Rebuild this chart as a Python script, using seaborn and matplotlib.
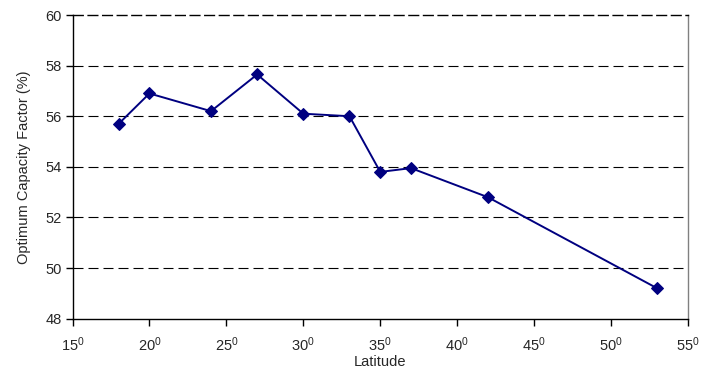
import matplotlib
matplotlib.use("Agg")
import matplotlib.pyplot as plt
import seaborn as sns
import pandas as pd

latitude = [18, 20, 24, 27, 30, 33, 35, 37, 42, 53]
capacity = [55.7, 56.9, 56.2, 57.65, 56.1, 56.0, 53.8, 53.95, 52.8, 49.2]
x_ticks = [15, 20, 25, 30, 35, 40, 45, 50, 55]
y_ticks = [48, 50, 52, 54, 56, 58, 60]

sns.set_style("white")
plt.rcParams['font.family'] = ['Liberation Sans', 'DejaVu Sans']
plt.rcParams['mathtext.fontset'] = 'custom'
plt.rcParams['mathtext.rm'] = 'Liberation Sans'
plt.rcParams['mathtext.it'] = 'Liberation Sans'

df = pd.DataFrame({"Latitude": latitude, "Capacity": capacity})

fig = plt.figure(figsize=(7.15, 3.71), dpi=100)
ax = fig.add_axes([72.5/715, 1 - 318.7/371, (688-72.5)/715, (318.7-15)/371])

sns.lineplot(data=df, x="Latitude", y="Capacity", ax=ax, color="#000080",
             marker="D", markersize=6, markeredgecolor="#000080", linewidth=1.4)

ax.set_xlim(15, 55)
ax.set_ylim(48, 60)
ax.set_xticks(x_ticks)
ax.set_xticklabels([f"{v}$^0$" for v in x_ticks])
ax.set_yticks(y_ticks)
ax.set_yticklabels([str(v) for v in y_ticks])

for v in y_ticks[1:-1]:
    ax.axhline(v, color="black", linestyle=(0, (9, 4.5)), linewidth=0.8, zorder=0)

ax.spines['left'].set_color('black')
ax.spines['bottom'].set_color('black')
ax.spines['top'].set_color('black')
ax.spines['top'].set_linestyle((0, (7, 3.5)))
ax.spines['right'].set_color('#808080')
for s in ax.spines.values():
    s.set_linewidth(1.0)

ax.tick_params(axis='both', direction='out', length=5, width=1, color='black',
               labelsize=10.5, bottom=True, left=True)
ax.tick_params(axis='x', pad=7)
ax.tick_params(axis='y', pad=3)
ax.set_xlabel("Latitude", fontsize=10.5, labelpad=1)
ax.set_ylabel("Optimum Capacity Factor (%)", fontsize=10.5, labelpad=10)

fig.savefig("out.png", dpi=100)
